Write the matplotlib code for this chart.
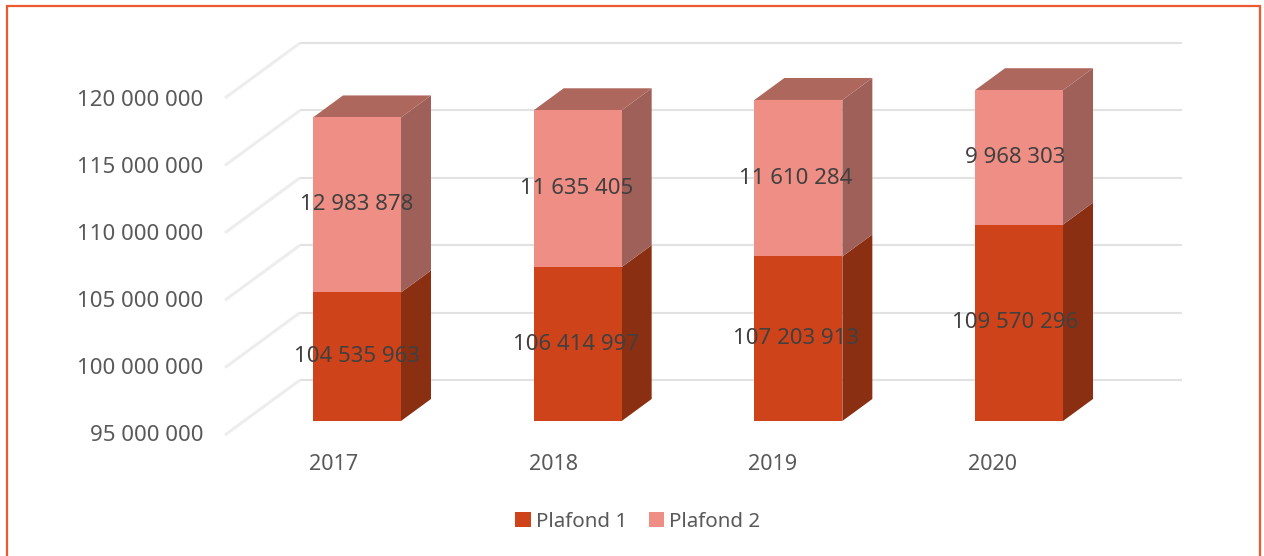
import matplotlib
matplotlib.use("Agg")
import matplotlib.pyplot as plt
from matplotlib.patches import Polygon, Rectangle

years = ["2017", "2018", "2019", "2020"]
plafond1 = [104535963, 106414997, 107203913, 109570296]
plafond2 = [12983878, 11635405, 11610284, 9968303]
y_ticks = [95000000, 100000000, 105000000, 110000000, 115000000, 120000000]

W, H = 1264, 556
PX_PER_CAT = 220.67
PX_PER_UNIT = 13.48 / 1e6
X0_PX, Y0_PX = 357, 421
BASE = 95000000
LABEL_STEP = 0.9945  # text labels are spaced slightly tighter than the bars

plt.rcParams["font.family"] = ["Noto Sans", "DejaVu Sans"]
fig = plt.figure(figsize=(W / 100, H / 100), dpi=100)
ax = fig.add_axes([0, 0, 1, 1])
ax.set_xlim(-X0_PX / PX_PER_CAT, (W - X0_PX) / PX_PER_CAT)
ax.set_ylim(BASE - (H - Y0_PX) / PX_PER_UNIT, BASE + Y0_PX / PX_PER_UNIT)
ax.axis("off")

dx_px = lambda p: p / PX_PER_CAT
dy_px = lambda p: p / PX_PER_UNIT

# gridlines: back wall plus side wall
GRID = "#E2E2E2"
for v in y_ticks:
    back_y = v + dy_px(41)
    ax.plot([dx_px(300 - X0_PX), dx_px(1182 - X0_PX)], [back_y, back_y],
            color=GRID, lw=1.5, zorder=1, solid_capstyle="butt")
    ax.plot([dx_px(225 - X0_PX), dx_px(300 - X0_PX)], [v - dy_px(14), back_y],
            color="#EDEDED", lw=2.2, zorder=1, solid_capstyle="butt")

W_BAR = 88 / PX_PER_CAT
DX, DY = dx_px(30), dy_px(22)
C1, C2 = "#CE431A", "#EE8E84"
S1, S2, TOP = "#8A2F12", "#A0605A", "#AE675C"

x = list(range(len(years)))
tops1 = [a + b for a, b in zip(plafond1, plafond2)]
h1 = [v - BASE for v in plafond1]
ax.bar(x, h1, W_BAR, bottom=BASE, color=C1, zorder=4, label="Plafond 1")
ax.bar(x, plafond2, W_BAR, bottom=plafond1, color=C2, zorder=4, label="Plafond 2")

for i in x:
    r = i + W_BAR / 2
    l = i - W_BAR / 2
    ax.add_patch(Polygon([(r, BASE), (r + DX, BASE + DY), (r + DX, plafond1[i] + DY), (r, plafond1[i])],
                         closed=True, fc=S1, ec="none", zorder=3))
    ax.add_patch(Polygon([(r, plafond1[i]), (r + DX, plafond1[i] + DY), (r + DX, tops1[i] + DY), (r, tops1[i])],
                         closed=True, fc=S2, ec="none", zorder=3))
    ax.add_patch(Polygon([(l, tops1[i]), (l + DX, tops1[i] + DY), (r + DX, tops1[i] + DY), (r, tops1[i])],
                         closed=True, fc=TOP, ec="none", zorder=3))
    lx = i * LABEL_STEP
    ax.text(lx, BASE + h1[i] / 2, f"{plafond1[i]:,}".replace(",", " "),
            ha="center", va="center", fontsize=16.0, color="#404040", zorder=6)
    ax.text(lx, plafond1[i] + plafond2[i] / 2, f"{plafond2[i]:,}".replace(",", " "),
            ha="center", va="center", fontsize=16.0, color="#404040", zorder=6)
    ax.text(lx - dx_px(23), BASE - dy_px(44), years[i],
            ha="center", va="center", fontsize=15.5, color="#595959", zorder=6)

for i, v in enumerate(y_ticks):
    ax.text(dx_px(203 - X0_PX), v - dy_px(14.5 + 0.4 * i), f"{v:,}".replace(",", " "),
            ha="right", va="center", fontsize=16.0, color="#595959")

handles, labels = ax.get_legend_handles_labels()
fig.legend(handles, labels, loc="center", bbox_to_anchor=(638 / W, 1 - 522 / H), ncol=2,
           frameon=False, fontsize=14.8, labelcolor="#595959", handlelength=0.75, handleheight=0.75,
           handletextpad=0.25, columnspacing=1.05)

fig.add_artist(Rectangle((7 / W, -0.02), 1253 / W, 1.02 - 6 / H, transform=fig.transFigure,
                         fill=False, ec="#EE5A30", lw=1.6))

fig.savefig("out.png", dpi=100, facecolor="white")
